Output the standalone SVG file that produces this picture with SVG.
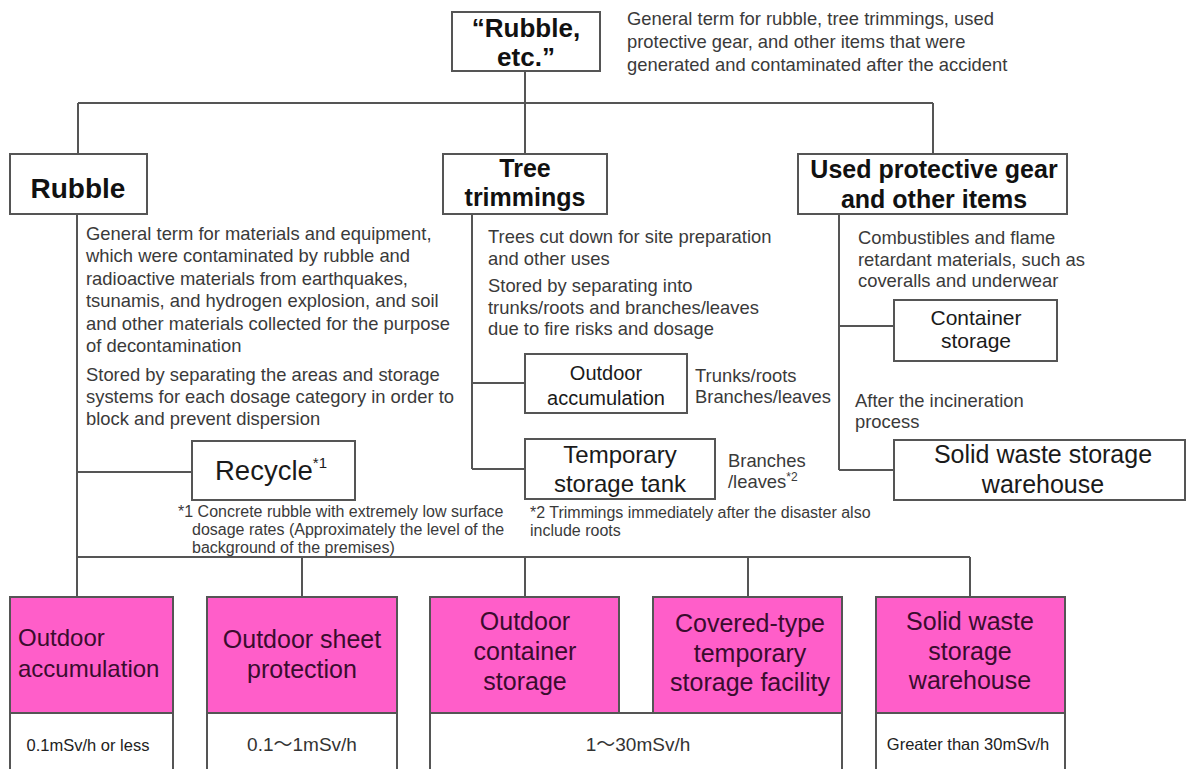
<svg xmlns="http://www.w3.org/2000/svg" width="1187" height="769" viewBox="0 0 1187 769">
<style>
text{font-family:"Liberation Sans",Arial,"Noto Sans CJK JP",sans-serif}
.box{fill:#fff;stroke:#555;stroke-width:2}
.pink{fill:#ff5ec9;stroke:#555;stroke-width:2}
.ln{fill:none;stroke:#555;stroke-width:2}
.hb{font-weight:bold;font-size:25px;fill:#111;text-anchor:middle}
.lb{font-size:21px;fill:#1a1a1a;text-anchor:middle}
.desc{font-size:18.4px;fill:#3a3a3a}
.note{font-size:16px;fill:#3a3a3a}
.pk{font-size:25px;fill:#3a0c2e;text-anchor:middle}
.dose{font-size:16.5px;fill:#222;text-anchor:middle}
.dose2{font-size:19px;fill:#333;text-anchor:middle}
</style>
<rect width="1187" height="769" fill="#fff"/>
<g id="connectors">
<path class="ln" d="M525,71V154M78,103H933M78,103V154M933,103V154"/>
<path class="ln" d="M77,214V597M77,472H192M77,557H970M302,557V597M525,557V597M748,557V597M970,557V597"/>
<path class="ln" d="M472,214V469M472,383H525M472,469H525"/>
<path class="ln" d="M839,214V470M839,326H894M839,470H894"/>
</g>
<g id="root">
<rect class="box" x="452" y="12" width="148" height="59"/>
<text class="hb" x="526" y="37" style="font-size:26px">“Rubble,</text>
<text class="hb" x="526" y="66" style="font-size:26px">etc.”</text>
<text class="desc" x="627" y="25">General term for rubble, tree trimmings, used</text>
<text class="desc" x="627" y="48">protective gear, and other items that were</text>
<text class="desc" x="627" y="71">generated and contaminated after the accident</text>
</g>
<g id="rubble">
<rect class="box" x="10" y="154" width="137" height="60"/>
<text class="hb" x="78" y="198" style="font-size:28px">Rubble</text>
<text class="desc" x="86" y="240">General term for materials and equipment,</text>
<text class="desc" x="86" y="262.4">which were contaminated by rubble and</text>
<text class="desc" x="86" y="284.8">radioactive materials from earthquakes,</text>
<text class="desc" x="86" y="307.2">tsunamis, and hydrogen explosion, and soil</text>
<text class="desc" x="86" y="329.6">and other materials collected for the purpose</text>
<text class="desc" x="86" y="352">of decontamination</text>
<text class="desc" x="86" y="381">Stored by separating the areas and storage</text>
<text class="desc" x="86" y="403">systems for each dosage category in order to</text>
<text class="desc" x="86" y="425">block and prevent dispersion</text>
</g>
<g id="tree">
<rect class="box" x="443" y="154" width="164" height="60"/>
<text class="hb" x="525" y="177">Tree</text>
<text class="hb" x="525" y="206">trimmings</text>
<text class="desc" x="488" y="243">Trees cut down for site preparation</text>
<text class="desc" x="488" y="264.5">and other uses</text>
<text class="desc" x="488" y="292">Stored by separating into</text>
<text class="desc" x="488" y="313.5">trunks/roots and branches/leaves</text>
<text class="desc" x="488" y="335">due to fire risks and dosage</text>
</g>
<g id="used">
<rect class="box" x="798" y="154" width="269" height="60"/>
<text class="hb" x="934" y="178">Used protective gear</text>
<text class="hb" x="934" y="208">and other items</text>
<text class="desc" x="858" y="244">Combustibles and flame</text>
<text class="desc" x="858" y="265.5">retardant materials, such as</text>
<text class="desc" x="858" y="287">coveralls and underwear</text>
</g>
<g id="outdoor-accum">
<rect class="box" x="525" y="354" width="162" height="59"/>
<text class="lb" x="606" y="380" style="font-size:20px">Outdoor</text>
<text class="lb" x="606" y="405" style="font-size:20px">accumulation</text>
<text class="desc" x="695" y="382">Trunks/roots</text>
<text class="desc" x="695" y="403">Branches/leaves</text>
</g>
<g id="temp-tank">
<rect class="box" x="525" y="439" width="190" height="60"/>
<text class="lb" x="620" y="463" style="font-size:24px">Temporary</text>
<text class="lb" x="620" y="492" style="font-size:24px">storage tank</text>
<text class="desc" x="728" y="467">Branches</text>
<text class="desc" x="728" y="488">/leaves<tspan font-size="12" dy="-7">*2</tspan></text>
<text class="note" x="530" y="518">*2 Trimmings immediately after the disaster also</text>
<text class="note" x="530" y="536">include roots</text>
</g>
<g id="container">
<rect class="box" x="894" y="300" width="163" height="61"/>
<text class="lb" x="976" y="325">Container</text>
<text class="lb" x="976" y="348">storage</text>
<text class="desc" x="855" y="407">After the incineration</text>
<text class="desc" x="855" y="428">process</text>
</g>
<g id="solid-waste">
<rect class="box" x="894" y="440" width="291" height="60"/>
<text class="lb" x="1043" y="463" style="font-size:25px">Solid waste storage</text>
<text class="lb" x="1043" y="493" style="font-size:25px">warehouse</text>
</g>
<g id="recycle">
<rect class="box" x="192" y="441" width="163" height="59"/>
<text x="215" y="480" style="font-size:27.5px;fill:#1a1a1a">Recycle<tspan font-size="15" dy="-12">*1</tspan></text>
<text class="note" x="178" y="517">*1 Concrete rubble with extremely low surface</text>
<text class="note" x="192" y="535">dosage rates (Approximately the level of the</text>
<text class="note" x="192" y="553">background of the premises)</text>
</g>
<g id="b1">
<rect class="box" x="10" y="713" width="163" height="70"/>
<rect class="pink" x="10" y="597" width="163" height="116"/>
<text class="pk" x="18" y="646" style="text-anchor:start;font-size:24px">Outdoor</text>
<text class="pk" x="18" y="677" style="text-anchor:start;font-size:24px">accumulation</text>
<text class="dose" x="88" y="751">0.1mSv/h or less</text>
</g>
<g id="b2">
<rect class="box" x="207" y="713" width="190" height="70"/>
<rect class="pink" x="207" y="597" width="190" height="116"/>
<text class="pk" x="302" y="648">Outdoor sheet</text>
<text class="pk" x="302" y="678">protection</text>
<text class="dose2" x="302" y="751">0.1～1mSv/h</text>
</g>
<g id="b34">
<rect class="box" x="430" y="713" width="412" height="70"/>
<rect class="pink" x="430" y="597" width="189" height="116"/>
<text class="pk" x="525" y="630">Outdoor</text>
<text class="pk" x="525" y="660">container</text>
<text class="pk" x="525" y="690">storage</text>
<rect class="pink" x="653" y="597" width="189" height="116"/>
<text class="pk" x="750" y="632">Covered-type</text>
<text class="pk" x="750" y="662">temporary</text>
<text class="pk" x="750" y="691">storage facility</text>
<text class="dose2" x="638" y="751">1～30mSv/h</text>
</g>
<g id="b5">
<rect class="box" x="876" y="713" width="189" height="70"/>
<rect class="pink" x="876" y="597" width="189" height="116"/>
<text class="pk" x="970" y="630">Solid waste</text>
<text class="pk" x="970" y="660">storage</text>
<text class="pk" x="970" y="689">warehouse</text>
<text class="dose" x="968" y="750">Greater than 30mSv/h</text>
</g>
</svg>
